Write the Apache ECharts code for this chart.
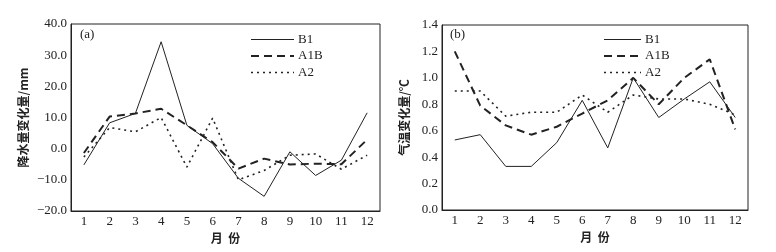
<!DOCTYPE html>
<html>
<head>
<meta charset="utf-8">
<script src="https://cdn.jsdelivr.net/npm/echarts@6/dist/echarts.min.js"></script>
<style>
html, body { margin: 0; padding: 0; background: #fff; }
#main { width: 776px; height: 252px; }
</style>
</head>
<body>
<div id="main"></div>
<script>
// 月份
var months = ['1', '2', '3', '4', '5', '6', '7', '8', '9', '10', '11', '12'];
var seriesNames = ['B1', 'A1B', 'A2'];

// (a) 降水量变化量 / mm
var rainB1  = [-5.2, 8.3, 11.3, 34.3, 7.5, 1.6, -9.5, -15.3, -1.0, -8.6, -3.7, 11.5];
var rainA1B = [-1.4, 10.3, 11.3, 12.8, 7.5, 2.1, -6.4, -3.2, -5.1, -4.8, -5.0, 2.9];
var rainA2  = [-2.7, 6.8, 5.4, 10.0, -5.9, 9.8, -10.0, -7.0, -2.1, -1.7, -6.6, -2.1];

// (b) 气温变化量 / ℃
var tempB1  = [0.53, 0.57, 0.33, 0.33, 0.51, 0.83, 0.47, 1.00, 0.70, 0.84, 0.97, 0.70];
var tempA1B = [1.20, 0.79, 0.64, 0.57, 0.63, 0.73, 0.83, 1.00, 0.80, 1.00, 1.14, 0.61];
var tempA2  = [0.90, 0.90, 0.71, 0.74, 0.74, 0.87, 0.74, 0.87, 0.84, 0.84, 0.80, 0.72];

var ink = '#222';
var serif = '"Liberation Serif", "DejaVu Serif", serif';
var cjk = '"Noto Sans CJK SC", sans-serif';

var styles = {
    'B1':  { width: 1,   type: 'solid' },
    'A1B': { width: 2,   type: [8, 5] },
    'A2':  { width: 1.6, type: [2, 4] }
};

function lineOf(name) {
    return { color: ink, width: styles[name].width, type: styles[name].type };
}

function mkSeries(name, data, idx) {
    return {
        name: name,
        type: 'line',
        xAxisIndex: idx,
        yAxisIndex: idx,
        data: data,
        symbol: 'none',
        silent: true,
        itemStyle: { color: ink },
        lineStyle: lineOf(name)
    };
}

function mkX(gridIndex) {
    return {
        type: 'category',
        gridIndex: gridIndex,
        data: months,
        boundaryGap: true,
        name: '月  份',
        nameLocation: 'middle',
        nameGap: 21,
        nameTextStyle: { fontFamily: cjk, fontSize: 12, color: ink, fontWeight: 'bold' },
        axisLine: { onZero: false, lineStyle: { color: ink } },
        axisTick: { inside: true, length: 3, lineStyle: { color: ink } },
        axisLabel: { fontFamily: serif, fontSize: 13, color: ink, margin: 4 },
        splitLine: { show: false }
    };
}

function mkY(gridIndex, min, max, interval, name, digits, gap) {
    return {
        type: 'value',
        gridIndex: gridIndex,
        min: min,
        max: max,
        interval: interval,
        name: name,
        nameLocation: 'middle',
        nameGap: gap,
        nameTextStyle: { fontFamily: cjk, fontSize: 12, color: ink, fontWeight: 'bold' },
        axisLine: { show: true, lineStyle: { color: ink } },
        axisTick: { inside: true, length: 3, lineStyle: { color: ink } },
        axisLabel: {
            fontFamily: serif, fontSize: 13, color: ink, margin: 4,
            formatter: function (v) { return v.toFixed(digits).replace('-', '\u2212'); }
        },
        splitLine: { show: false }
    };
}

function mkLegend(left, w) {
    return {
        orient: 'vertical',
        left: left,
        top: 28,
        itemWidth: w,
        itemHeight: 12,
        itemGap: 3.5,
        selectedMode: false,
        itemStyle: { opacity: 0 },
        data: seriesNames.map(function (n) {
            return { name: n, lineStyle: lineOf(n), itemStyle: { opacity: 0 } };
        }),
        textStyle: { fontFamily: serif, fontSize: 13, color: ink, padding: [0, 0, 0, -1] }
    };
}

var myChart = echarts.init(document.getElementById('main'), null, { renderer: 'canvas' });

var option = {
    backgroundColor: '#fff',
    animation: false,
    grid: [
        { left: 71, top: 24, width: 309, height: 187, show: true, borderColor: ink, borderWidth: 1, backgroundColor: 'transparent' },
        { left: 442, top: 25, width: 306, height: 185, show: true, borderColor: ink, borderWidth: 1, backgroundColor: 'transparent' }
    ],
    legend: [mkLegend(245, 43), mkLegend(598, 37)],
    graphic: [
        { type: 'text', left: 80, top: 28, style: { text: '(a)', font: '13px ' + serif, fill: ink } },
        { type: 'text', left: 450, top: 28, style: { text: '(b)', font: '13px ' + serif, fill: ink } }
    ],
    xAxis: [mkX(0), mkX(1)],
    yAxis: [
        mkY(0, -20, 40, 10, '降水量变化量/mm', 1, 42),
        mkY(1, 0, 1.4, 0.2, '气温变化量/℃', 1, 32)
    ],
    series: [
        mkSeries('B1', rainB1, 0),
        mkSeries('A1B', rainA1B, 0),
        mkSeries('A2', rainA2, 0),
        mkSeries('B1', tempB1, 1),
        mkSeries('A1B', tempA1B, 1),
        mkSeries('A2', tempA2, 1)
    ]
};
myChart.setOption(option);
</script>
</body>
</html>
